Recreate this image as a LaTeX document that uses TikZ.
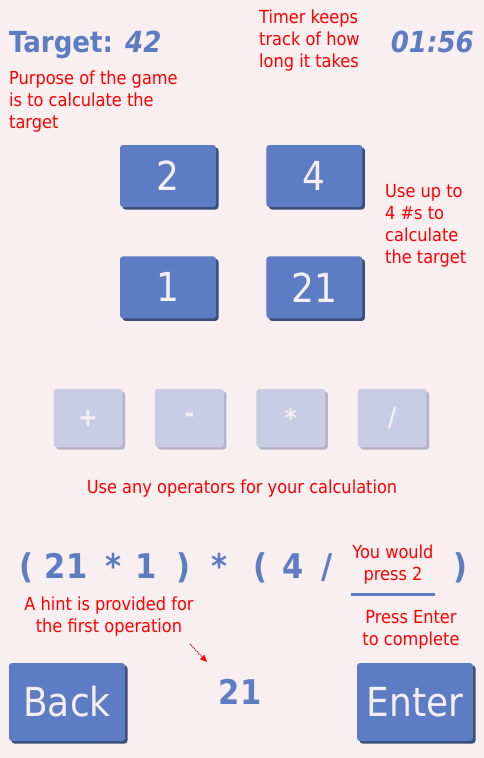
\documentclass[tikz,border=0pt]{standalone}
\usepackage{fontspec}
\setmainfont{DejaVu Sans Condensed}
\usetikzlibrary{positioning,shadows,arrows.meta}
\definecolor{bgpink}{RGB}{249,238,240}
\definecolor{btnblue}{RGB}{92,124,196}
\definecolor{btnshade}{RGB}{58,78,122}
\definecolor{opfill}{RGB}{200,204,228}
\definecolor{opshade}{RGB}{184,176,196}
\definecolor{btntext}{RGB}{246,238,244}
\tikzset{
  numbtn/.style={fill=btnblue, rounded corners=3pt, minimum width=96pt, minimum height=62pt,
    text=btntext, font=\fontsize{40}{40}\selectfont,
    drop shadow={shadow xshift=2.5pt, shadow yshift=-2.5pt, fill=btnshade, opacity=1}},
  opbtn/.style={fill=opfill, rounded corners=3pt, minimum width=69pt, minimum height=58pt,
    text=btntext, font=\bfseries\fontsize{26}{26}\selectfont,
    drop shadow={shadow xshift=2.5pt, shadow yshift=-2.5pt, fill=opshade, opacity=1}},
  bigbtn/.style={numbtn, minimum width=116pt, minimum height=78pt},
  note/.style={text=red, font=\fontsize{18}{22}\selectfont, inner sep=0pt},
  bluetext/.style={text=btnblue, font=\bfseries\fontsize{34}{34}\selectfont, inner sep=0pt},
  tok/.style={bluetext, anchor=base},
}
\begin{document}
\begin{tikzpicture}[x=1pt, y=-1pt]
\useasboundingbox[fill=bgpink] (0,0) rectangle (484,758);
% header
\node[bluetext, anchor=base west, font=\bfseries\fontsize{29}{29}\selectfont](target) at (9,52){Target: \textit{42}};
\node[bluetext, anchor=base east, font=\bfseries\itshape\fontsize{29}{29}\selectfont](timer) at (474,52){01:56};
\node[note, align=left, anchor=north west](timernote) at (259,10){Timer keeps\\track of how\\long it takes};
\node[note, align=left, anchor=north west](purpose) at (9,71){Purpose of the game\\is to calculate the\\target};
% numbers
\node[numbtn](num2) at (168,176){2};
\node[numbtn, right=50pt of num2](num4){4};
\node[numbtn, below=49pt of num2](num1){1};
\node[numbtn, right=50pt of num1](num21){21};
\node[note, align=left, anchor=north west](upto) at (385,184){Use up to\\4 \#s to\\calculate\\the target};
% operators
\node[opbtn](plus) at (88,418){+};
\node[opbtn, right=32pt of plus](minus){-};
\node[opbtn, right=32pt of minus](times){*};
\node[opbtn, right=32pt of times](divide){/};
\node[note](opnote) at (242,489){Use any operators for your calculation};
% expression
\node[tok](lpar1) at (26,578){(};
\node[tok](e21) at (66,578){21};
\node[tok](mul1) at (113,578){*};
\node[tok](e1) at (146,578){1};
\node[tok](rpar1) at (183,578){)};
\node[tok](mul2) at (219,578){*};
\node[tok](lpar2) at (260,578){(};
\node[tok](e4) at (293,578){4};
\node[tok](slash) at (327,578){/};
\node[tok](rpar2) at (460,578){)};
\node[note, align=center](wouldpress) at (393,565){You would\\press 2};
\coordinate (blankL) at (351,594);
\coordinate (blankR) at (435,594);
\draw[btnblue, line width=3pt](blankL)--(blankR);
\node[note, align=center](hint) at (109,617){A hint is provided for\\the first operation};
\node[note, align=center](enternote) at (411,630){Press Enter\\to complete};
% bottom row
\node[bigbtn](back) at (67,702){Back};
\node[bigbtn](enter) at (415,702){Enter};
\node[bluetext](hintval) at (240,692){21};
\coordinate (hinttail) at (190,644);
\coordinate (hinthead) at (207,662);
\draw[red!70!black, densely dotted, line width=1pt, -{Triangle[red, length=7pt, width=6pt]}](hinttail)--(hinthead);
\end{tikzpicture}
\end{document}
